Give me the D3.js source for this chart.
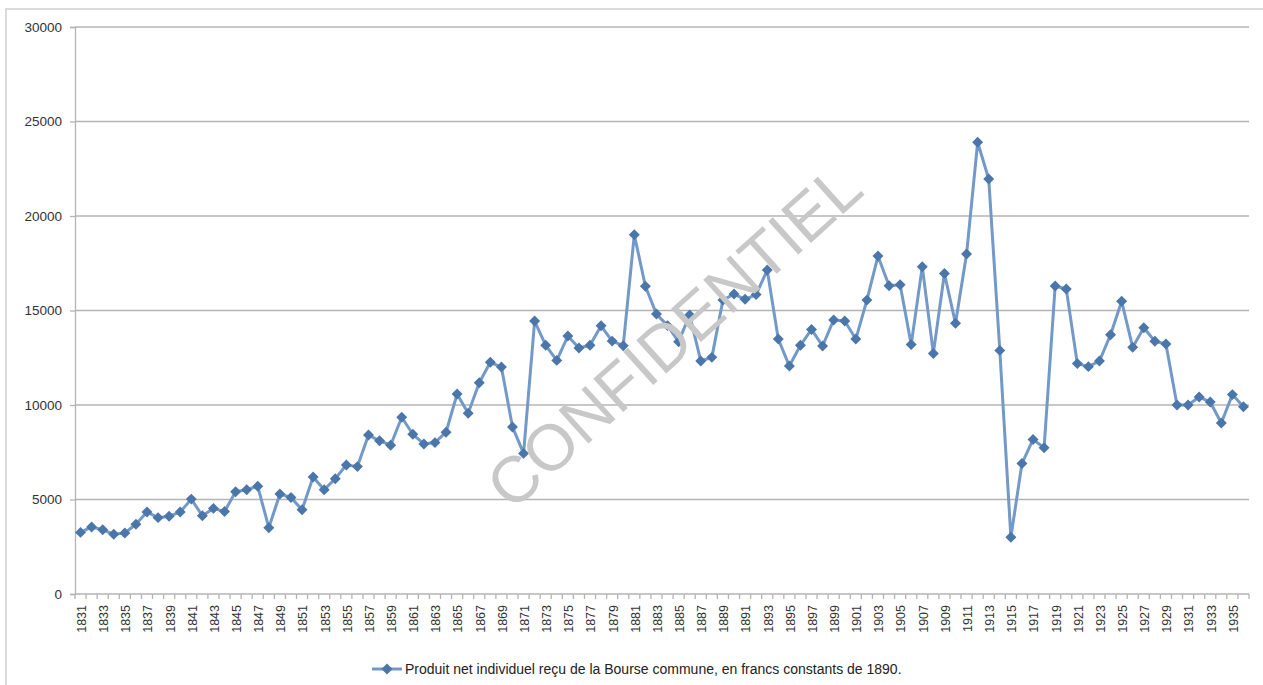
<!DOCTYPE html>
<html>
<head>
<meta charset="utf-8">
<script src="https://cdn.jsdelivr.net/npm/d3@7"></script>
<style>
html,body{margin:0;padding:0;background:#fff;}
svg{display:block;}
</style>
</head>
<body>
<svg id="chart" width="1263" height="685"></svg>
<script>
const years = d3.range(1831, 1937);
const values = [
  3260, 3550, 3400, 3160, 3230, 3690, 4340, 4040, 4110, 4340,
  5020, 4140, 4530, 4360, 5410, 5520, 5700, 3510, 5290, 5110,
  4460, 6190, 5520, 6100, 6830, 6740, 8410, 8110, 7870, 9350,
  8450, 7940, 8010, 8560, 10580, 9560, 11180, 12260, 12010, 8840,
  7440, 14440, 13160, 12360, 13650, 13020, 13160, 14190, 13380, 13140,
  19010, 16280, 14810, 14200, 13350, 14760, 12330, 12520, 15550, 15870,
  15590, 15840, 17140, 13490, 12060, 13160, 14000, 13120, 14500, 14440,
  13490, 15550, 17880, 16310, 16360, 13200, 17320, 12730, 16960, 14320,
  17990, 23900, 21960, 12890, 3000, 6900, 8180, 7740, 16300, 16140,
  12190, 12030, 12330, 13720, 15490, 13050, 14090, 13370, 13230, 10000,
  10000, 10420, 10160, 9050, 10550, 9910
];
const yTicks = [0, 5000, 10000, 15000, 20000, 25000, 30000];
const xLabelYears = years.filter((d, i) => i % 2 === 0);
const seriesName = "Produit net individuel reçu de la Bourse commune, en francs constants de 1890.";
const watermark = "CONFIDENTIEL";

(function () {
const svg = d3.select("#chart");
const mLeft = 75, mRight = 1249, mTop = 27, mBottom = 594;
const lineColor = "#7299c8", markerColor = "#4a76aa", gridColor = "#b4b4b4", textColor = "#333";
const font = "'Liberation Sans', Arial, sans-serif";

// outer frame
svg.append("rect").attr("x", 6).attr("y", 9).attr("width", 1300).attr("height", 700)
  .attr("fill", "none").attr("stroke", "#cfcfcf").attr("stroke-width", 1.5);

const x = d3.scaleBand().domain(years).range([mLeft, mRight]).padding(0);
const y = d3.scaleLinear().domain([0, 30000]).range([mBottom, mTop]);
const cx = d => x(d) + x.bandwidth() / 2;

// gridlines
svg.append("g").selectAll("line").data(yTicks.filter(d => d > 0)).join("line")
  .attr("x1", mLeft).attr("x2", mRight)
  .attr("y1", d => y(d)).attr("y2", d => y(d))
  .attr("stroke", gridColor).attr("stroke-width", 1.3);

// y axis
const yAxis = svg.append("g").attr("transform", `translate(${mLeft},0)`)
  .call(d3.axisLeft(y).tickValues(yTicks).tickFormat(d3.format("d")).tickSize(5).tickPadding(8));
yAxis.select(".domain").attr("stroke", gridColor).attr("stroke-width", 1.3);
yAxis.selectAll(".tick line").attr("stroke", gridColor).attr("stroke-width", 1.3);
yAxis.selectAll("text").attr("font-family", font).attr("font-size", 13.5).attr("fill", textColor);

// x axis line and ticks at band edges
svg.append("line").attr("x1", mLeft).attr("x2", mRight).attr("y1", mBottom).attr("y2", mBottom)
  .attr("stroke", gridColor).attr("stroke-width", 1.3);
const edges = years.map(d => x(d)).concat([x(years[years.length - 1]) + x.bandwidth()]);
svg.append("g").selectAll("line").data(edges).join("line")
  .attr("x1", d => d).attr("x2", d => d).attr("y1", mBottom).attr("y2", mBottom + 5)
  .attr("stroke", gridColor).attr("stroke-width", 1.3);

// x labels
const xAxis = svg.append("g").attr("transform", `translate(0,${mBottom})`)
  .call(d3.axisBottom(x).tickValues(xLabelYears).tickSize(0).tickPadding(0));
xAxis.select(".domain").remove();
xAxis.selectAll("text")
  .attr("font-family", font).attr("font-size", 12.5).attr("fill", textColor)
  .attr("text-anchor", "end").attr("dy", "0.35em")
  .attr("transform", "translate(1,11) rotate(-90)")
  .attr("x", 0).attr("y", 0);

// line
const line = d3.line().x((d, i) => cx(years[i])).y(d => y(d));
svg.append("path").datum(values).attr("d", line)
  .attr("fill", "none").attr("stroke", lineColor).attr("stroke-width", 3).attr("stroke-linejoin", "round");

// markers (square rotated 45° = diamond)
const diamond = d3.symbol().type(d3.symbolSquare).size(60);
svg.append("g").selectAll("path").data(values).join("path")
  .attr("d", diamond)
  .attr("transform", (d, i) => `translate(${cx(years[i])},${y(d)}) rotate(45)`)
  .attr("fill", markerColor);

// watermark
svg.append("text").text(watermark)
  .attr("transform", "translate(674,336) rotate(-42)")
  .attr("text-anchor", "middle").attr("dominant-baseline", "central")
  .attr("font-family", font).attr("font-size", 65).attr("fill", "#c8c8c8");

// legend
const lg = svg.append("g").attr("transform", "translate(372,669)");
lg.append("line").attr("x1", 0).attr("x2", 30).attr("y1", 0).attr("y2", 0)
  .attr("stroke", lineColor).attr("stroke-width", 3);
lg.append("path").attr("d", diamond).attr("transform", "translate(15,0) rotate(45)").attr("fill", markerColor);
lg.append("text").text(seriesName).attr("x", 33).attr("y", 0).attr("dy", "0.35em")
  .attr("font-family", font).attr("font-size", 14).attr("fill", "#222");
})();
</script>
</body>
</html>
